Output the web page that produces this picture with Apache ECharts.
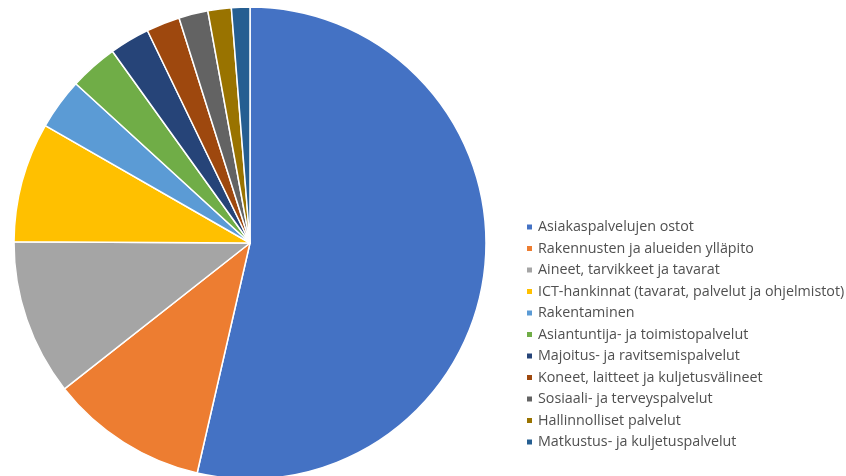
<!DOCTYPE html>
<html><head><meta charset="utf-8">
<script src="https://cdn.jsdelivr.net/npm/echarts@6/dist/echarts.min.js"></script>
<style>html,body{margin:0;padding:0;background:#fff}#c{width:846px;height:476px}</style>
</head><body><div id="c"></div>
<script>
const categories = [
  "Asiakaspalvelujen ostot",
  "Rakennusten ja alueiden ylläpito",
  "Aineet, tarvikkeet ja tavarat",
  "ICT-hankinnat (tavarat, palvelut ja ohjelmistot)",
  "Rakentaminen",
  "Asiantuntija- ja toimistopalvelut",
  "Majoitus- ja ravitsemispalvelut",
  "Koneet, laitteet ja kuljetusvälineet",
  "Sosiaali- ja terveyspalvelut",
  "Hallinnolliset palvelut",
  "Matkustus- ja kuljetuspalvelut"
];
const values = [53.6, 10.8, 10.7, 8.2, 3.5, 3.3, 2.75, 2.3, 2.0, 1.6, 1.26];
const colors = ["#4472C4","#ED7D31","#A5A5A5","#FFC000","#5B9BD5","#70AD47","#264478","#9E480E","#636363","#997300","#255E91"];

const chart = echarts.init(document.getElementById('c'), null, {renderer:'canvas'});
chart.setOption({
  animation: false,
  color: colors,
  legend: {
    orient: 'vertical',
    left: 520,
    top: 215,
    itemWidth: 7,
    itemHeight: 7,
    itemGap: 7.5,
    icon: 'rect',
    textStyle: { fontFamily: 'Open Sans', fontSize: 14.3, color: '#505050', lineHeight: 14, padding: [0,0,0,0] },
    data: categories
  },
  series: [{
    type: 'pie',
    center: [250, 243],
    radius: 236,
    startAngle: 90,
    clockwise: true,
    label: { show: false },
    labelLine: { show: false },
    itemStyle: { borderColor: '#fff', borderWidth: 1.5 },
    emphasis: { disabled: true },
    data: categories.map((n, i) => ({ name: n, value: values[i] }))
  }]
});
</script></body></html>
